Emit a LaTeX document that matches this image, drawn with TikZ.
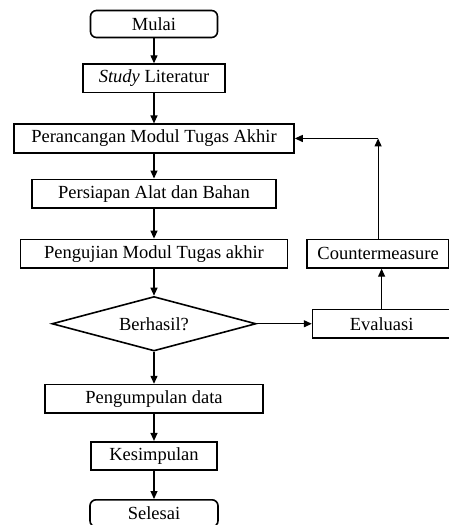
\documentclass[tikz,border=0pt]{standalone}
\usepackage{fontspec}
\setmainfont{Liberation Serif}
\usetikzlibrary{arrows.meta,positioning,shapes.geometric}

\begin{document}
\begin{tikzpicture}[
  node distance=27pt,
  every node/.style={font=\fontsize{18.5}{21}\selectfont},
  proses/.style={draw, line width=1.6pt, minimum height=28.5pt, inner sep=2pt, align=center},
  terminal/.style={proses, rounded corners=6pt, minimum height=27pt},
  keputusan/.style={draw, diamond, line width=1.6pt, aspect=3.7, minimum width=204pt,
                    minimum height=54.5pt, inner sep=0pt},
  arr/.style={-{Triangle[length=8pt,width=7pt]}, line width=1.2pt}
]
\useasboundingbox (0,0) rectangle (449pt,-525pt);

\node[terminal, minimum width=127pt] (mulai) at (154pt,-24pt) {Mulai};
\node[proses, minimum width=142pt, below=25pt of mulai] (studi) {\textit{Study} Literatur};
\node[proses, minimum width=280pt, below=30pt of studi] (rancang) {Perancangan Modul Tugas Akhir};
\node[proses, minimum width=244pt, below=25pt of rancang] (siap) {Persiapan Alat dan Bahan};
\node[proses, minimum width=267pt, below=30pt of siap] (uji) {Pengujian Modul Tugas akhir};
\node[keputusan, below=27pt of uji] (cek) {Berhasil?};
\node[proses, minimum width=218pt, below=32pt of cek] (kumpul) {Pengumpulan data};
\node[proses, minimum width=126pt, below=27pt of kumpul] (simpul) {Kesimpulan};
\node[terminal, minimum width=128pt, below=28pt of simpul] (selesai) {Selesai};

% jalur perbaikan
\node[proses, minimum width=138pt, right=55pt of cek] (eval) {Evaluasi};
\node[proses, minimum width=142pt, right=18pt of uji] (counter) {Countermeasure};
\coordinate (belok) at (counter.north |- rancang.east);

\draw[arr] (mulai) -- (studi);
\draw[arr] (studi) -- (rancang);
\draw[arr] (rancang) -- (siap);
\draw[arr] (siap) -- (uji);
\draw[arr] (uji) -- (cek);
\draw[arr] (cek) -- (kumpul);
\draw[arr] (kumpul) -- (simpul);
\draw[arr] (simpul) -- (selesai);
\draw[arr] (cek) -- (eval);
\draw[arr] (eval.north) -- (eval.north |- counter.south);
\draw[arr] (counter) -- (belok);
\draw[arr] (belok) -- (rancang);
\end{tikzpicture}
\end{document}
